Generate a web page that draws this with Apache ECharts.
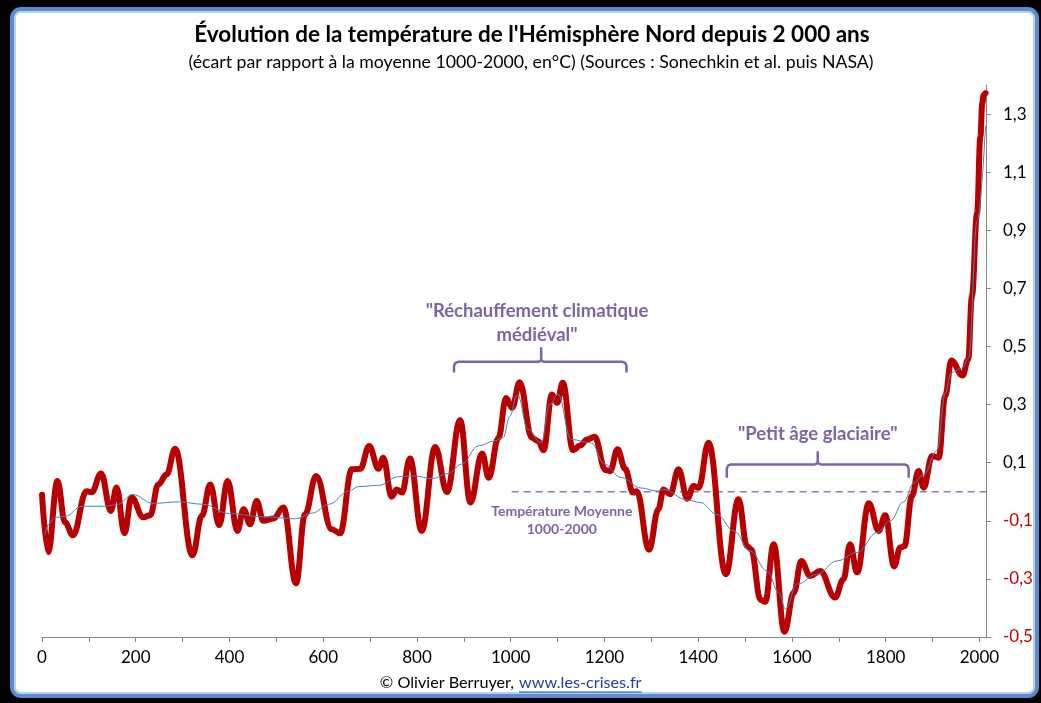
<!DOCTYPE html>
<html>
<head>
<meta charset="utf-8">
<script src="https://cdn.jsdelivr.net/npm/echarts@6/dist/echarts.min.js"></script>
<style>
  html, body { margin: 0; padding: 0; background: #000; }
  #frame {
    position: absolute; left: 10px; top: 7px; width: 1021px; height: 683px;
    background: #fff; border: 4px solid #5b8bd0; border-radius: 11px;
    box-shadow: inset 0 0 0 2px #b7d1f0;
  }
  #chart { position: absolute; left: 0; top: 0; width: 1041px; height: 703px; }
</style>
</head>
<body>
<div id="frame"></div>
<div id="chart"></div>
<script>
// courbe rouge (reconstruction annuelle lissée)
const years = [0, 13, 33, 49, 66, 95, 106, 126, 147, 159, 176, 191, 216, 231, 248, 266, 284, 321, 341, 359,
  378, 396, 417, 430, 444, 458, 472, 494, 515, 542, 561, 585, 618, 636, 661, 679, 698, 718, 728, 746,
  757, 768, 785, 810, 839, 864, 892, 914, 939, 953, 974, 990, 1003, 1019, 1045, 1059, 1070, 1088, 1099, 1111,
  1133, 1148, 1163, 1179, 1202, 1212, 1228, 1244, 1261, 1269, 1295, 1315, 1326, 1340, 1358, 1377, 1390, 1401, 1422, 1459,
  1486, 1504, 1513, 1533, 1543, 1561, 1584, 1604, 1620, 1639, 1660, 1692, 1710, 1724, 1739, 1764, 1785, 1799, 1818, 1831,
  1840, 1856, 1870, 1881, 1899, 1913, 1927, 1940, 1964, 1976, 1984, 1995, 2002, 2006, 2009, 2013];
const temps = [-0.01, -0.208, 0.037, -0.105, -0.15, 0.002, -0.002, 0.063, -0.066, 0.015, -0.143, -0.019, -0.088, -0.081, 0.025, 0.06, 0.148, -0.219, -0.083, 0.025,
  -0.115, 0.037, -0.135, -0.06, -0.112, -0.032, -0.1, -0.092, -0.054, -0.315, -0.078, 0.054, -0.129, -0.143, 0.077, 0.079, 0.157, 0.079, 0.117, -0.017,
  0.008, -0.003, 0.114, -0.135, 0.154, -0.001, 0.246, -0.037, 0.132, 0.048, 0.186, 0.323, 0.289, 0.377, 0.186, 0.174, 0.143, 0.335, 0.306, 0.375,
  0.143, 0.159, 0.18, 0.189, 0.075, 0.071, 0.146, 0.079, -0.003, 0.002, -0.2, -0.06, 0.008, -0.009, 0.077, -0.024, 0.02, 0.014, 0.169, -0.284,
  -0.026, -0.187, -0.198, -0.372, -0.379, -0.181, -0.482, -0.347, -0.238, -0.29, -0.273, -0.364, -0.301, -0.181, -0.278, -0.04, -0.135, -0.081, -0.257, -0.192,
  -0.187, -0.015, 0.071, 0.014, 0.123, 0.117, 0.329, 0.452, 0.4, 0.455, 0.673, 0.959, 1.222, 1.337, 1.366, 1.372];

// courbe bleue (tendance)
const trendYears = [6, 15, 28, 49, 85, 130, 159, 194, 237, 293, 342, 400, 470, 541, 577, 612, 655, 676, 718, 761,
  796, 832, 867, 895, 931, 966, 984, 998, 1014, 1037, 1065, 1083, 1101, 1129, 1172, 1200, 1235, 1278, 1313, 1326,
  1376, 1404, 1440, 1476, 1511, 1547, 1572, 1586, 1611, 1654, 1696, 1739, 1782, 1810, 1838, 1860, 1881, 1910, 1927, 1940,
  1963, 1977, 1995, 2013];
const trendTemps = [-0.15, -0.11, -0.088, -0.085, -0.05, -0.05, -0.045, -0.01, -0.04, -0.035, -0.043, -0.075, -0.086, -0.093, -0.073, -0.043, 0.003, 0.018, 0.022, 0.052,
  0.054, 0.045, 0.063, 0.095, 0.158, 0.175, 0.187, 0.26, 0.335, 0.215, 0.168, 0.3, 0.335, 0.18, 0.168, 0.095, 0.049, 0.013, 0.002, 0.008,
  -0.028, -0.037, -0.078, -0.135, -0.204, -0.273, -0.347, -0.404, -0.318, -0.284, -0.238, -0.209, -0.14, -0.1, -0.035, 0.03, 0.06, 0.143, 0.34, 0.41,
  0.426, 0.46, 0.93, 1.26];

// moyenne 1000-2000
const meanYears = [1002, 2014];
const meanTemps = [0, 0];

const xTicks = [0, 100, 200, 300, 400, 500, 600, 700, 800, 900, 1000, 1100, 1200, 1300, 1400, 1500, 1600, 1700, 1800, 1900, 2000];
const xLabels = [0, 200, 400, 600, 800, 1000, 1200, 1400, 1600, 1800, 2000];
const yLabels = [-0.5, -0.3, -0.1, 0.1, 0.3, 0.5, 0.7, 0.9, 1.1, 1.3];

const FONT = 'Lato';
const PURPLE = '#8064a2';
const RED = '#b80000';

const zip = (a, b) => a.map((v, i) => [v, b[i]]);

const chart = echarts.init(document.getElementById('chart'));

chart.setOption({
  backgroundColor: 'transparent',
  animation: false,
  grid: { left: 42, right: 55, top: 85, bottom: 66 },
  xAxis: {
    type: 'value',
    min: 0,
    max: 2014,
    axisLine: { onZero: false, lineStyle: { color: '#868686', width: 1 } },
    axisTick: { customValues: xTicks, length: 5, lineStyle: { color: '#868686' } },
    axisLabel: { customValues: xLabels, margin: 12, fontFamily: FONT, fontSize: 17, color: '#000', formatter: (v) => String(v) },
    splitLine: { show: false }
  },
  yAxis: {
    type: 'value',
    position: 'right',
    min: -0.5,
    max: 1.4,
    axisLine: { show: true, onZero: false, lineStyle: { color: '#868686', width: 1 } },
    axisTick: { show: true, customValues: yLabels, length: 5, lineStyle: { color: '#868686' } },
    axisLabel: {
      customValues: yLabels,
      margin: 17,
      fontFamily: FONT,
      fontSize: 17,
      formatter: (v) => Number(v).toFixed(1).replace('.', ','),
      color: (v) => (parseFloat(v) < 0 ? '#c00000' : '#000')
    },
    splitLine: { show: false }
  },
  series: [
    {
      name: 'Moyenne',
      type: 'line',
      data: zip(meanYears, meanTemps),
      symbol: 'none',
      lineStyle: { color: '#8a7db3', width: 1.5, type: [7, 5] },
      z: 1
    },
    {
      name: 'Température',
      type: 'line',
      data: zip(years, temps),
      symbol: 'none',
      smooth: 0.4,
      smoothMonotone: 'x',
      lineStyle: { color: RED, width: 6, cap: 'round', join: 'round' },
      z: 3
    },
    {
      name: 'Tendance',
      type: 'line',
      data: zip(trendYears, trendTemps),
      symbol: 'none',
      smooth: 0.4,
      smoothMonotone: 'x',
      lineStyle: { color: '#4a80b0', width: 1 },
      z: 4
    }
  ]
});

// annotations placées via les échelles du graphique
const px = (x, y) => chart.convertToPixel({ gridIndex: 0 }, [x, y]);

function bracket(x1, x2, xm, yLine, yEnd, yTop) {
  const a = px(x1, yEnd), b = px(x2, yEnd), m = px(xm, yTop);
  const h = px(x1, yLine)[1];
  const pts = [
    [a[0], a[1]], [a[0], h + 4], [a[0] + 1.2, h + 1.2], [a[0] + 4, h],
    [m[0] - 3, h], [m[0] - 0.6, h - 1], [m[0], h - 3], [m[0], m[1]], [m[0], h - 3], [m[0] + 0.6, h - 1], [m[0] + 3, h],
    [b[0] - 4, h], [b[0] - 1.2, h + 1.2], [b[0], h + 4], [b[0], b[1]]
  ];
  return { type: 'polyline', shape: { points: pts }, style: { fill: null, stroke: PURPLE, lineWidth: 2.5, lineJoin: 'round' }, z: 10 };
}

function label(x, y, text, size, extra) {
  const p = px(x, y);
  return {
    type: 'text', x: p[0], y: p[1], z: 10,
    style: Object.assign({ text: text, fill: PURPLE, font: 'bold ' + size + 'px ' + FONT, align: 'center', verticalAlign: 'middle' }, extra || {})
  };
}

const ctx = document.createElement('canvas').getContext('2d');
ctx.font = '16.2px ' + FONT;
const linkText = 'www.les-crises.fr';
const linkW = ctx.measureText(linkText).width;

chart.setOption({
  graphic: [
    { type: 'text', x: 532, y: 35, style: { text: "Évolution de la température de l'Hémisphère Nord depuis 2 000 ans", font: 'bold 22.5px ' + FONT, fill: '#000', align: 'center', verticalAlign: 'middle' } },
    { type: 'text', x: 531, y: 62, style: { text: '(écart par rapport à la moyenne 1000-2000, en°C) (Sources : Sonechkin et al. puis NASA)', font: '17.7px ' + FONT, fill: '#000', align: 'center', verticalAlign: 'middle' } },
    label(1056, 0.58, '"Réchauffement climatique\nmédiéval"', 18.5, { lineHeight: 24 }),
    bracket(879, 1247, 1065, 0.447, 0.41, 0.494),
    label(1655, 0.2, '"Petit âge glaciaire"', 18.5),
    bracket(1461, 1849, 1655, 0.094, 0.048, 0.136),
    label(1109, -0.1, 'Température Moyenne\n1000-2000', 14, { lineHeight: 18 }),
    { type: 'text', x: 514, y: 683, style: { text: '© Olivier Berruyer,', font: '16.2px ' + FONT, fill: '#000', align: 'right', verticalAlign: 'middle' } },
    { type: 'text', x: 519, y: 683, style: { text: linkText, font: '16.2px ' + FONT, fill: '#1f3ea8', align: 'left', verticalAlign: 'middle' } },
    { type: 'line', shape: { x1: 519, y1: 692, x2: 519 + linkW, y2: 692 }, style: { stroke: '#1f3ea8', lineWidth: 1 } }
  ]
});

window.addEventListener('resize', () => {
  chart.resize();
});
</script>
</body>
</html>
